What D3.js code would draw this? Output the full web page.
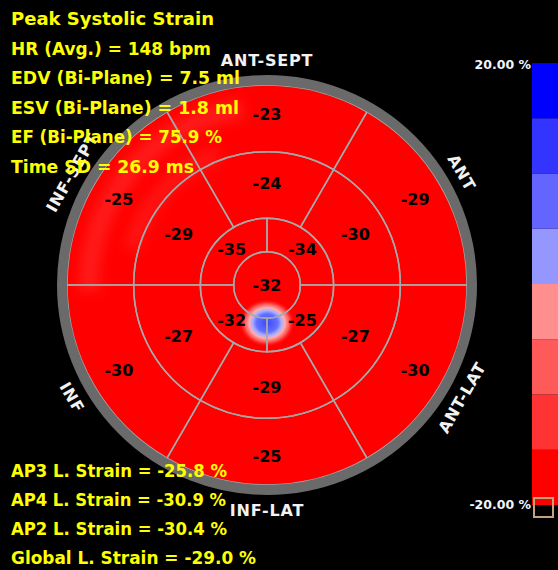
<!DOCTYPE html>
<html>
<head>
<meta charset="utf-8">
<script src="https://cdn.jsdelivr.net/npm/d3@7"></script>
<style>
  html, body { margin: 0; padding: 0; background: #000; }
  svg { display: block; }
</style>
</head>
<body>
<svg id="chart" width="558" height="570"></svg>
<script>
// Segment strain values (%), listed clockwise starting at the top of each ring
const basalValues  = [-23, -29, -30, -25, -30, -25];
const midValues    = [-24, -30, -27, -29, -27, -29];
const apicalValues = [-34, -25, -32, -35];
const apexValues   = [-32];

// Wall names around the plot, clockwise from the top
const wallNames = ["ANT-SEPT", "ANT", "ANT-LAT", "INF-LAT", "INF", "INF-SEPT"];

// Summary text blocks
const headerLines = [
  "Peak Systolic Strain",
  "HR (Avg.) = 148 bpm",
  "EDV (Bi-Plane) = 7.5 ml",
  "ESV (Bi-Plane) = 1.8 ml",
  "EF (Bi-Plane) = 75.9 %",
  "Time SD = 26.9 ms"
];
const strainLines = [
  "AP3 L. Strain = -25.8 %",
  "AP4 L. Strain = -30.9 %",
  "AP2 L. Strain = -30.4 %",
  "Global L. Strain = -29.0 %"
];

// Colour scale: eight bands from -20 % (red) to +20 % (blue)
const scaleColors = ["#ff0000", "#ff3333", "#ff5a5a", "#ff8f8f",
                     "#9696ff", "#6464ff", "#3434ff", "#0000ff"];
const scaleDomain = [-20, 20];
const scaleLabels = ["20.00 %", "-20.00 %"];

// Layout: set widths of the summary lines (px), the font runs a little wide
const headerWidths = [203, 200, 229, 228, 211, 183];
const strainWidths = [216, 215, 216, 245];

const svg = d3.select("#chart");
const W = 558, H = 570;
svg.append("rect").attr("width", W).attr("height", H).attr("fill", "#000");

const cx = 267, cy = 285;
const R = 200;
const color = d3.scaleQuantize().domain(scaleDomain).range(scaleColors);

// Ring radii: apex, apical, mid, basal
const rRing = d3.scaleLinear().domain([0, 6]).range([0, R]);
const rings = [
  {values: basalValues,  r0: rRing(4), r1: rRing(6), labelR: 171, offset: -Math.PI / 6},
  {values: midValues,    r0: rRing(2), r1: rRing(4), labelR: 102, offset: -Math.PI / 6},
  {values: apicalValues, r0: rRing(1), r1: rRing(2), labelR: 50,  offset: 0}
];

const defs = svg.append("defs");
defs.append("filter").attr("id", "soft")
  .attr("x", "-50%").attr("y", "-50%").attr("width", "200%").attr("height", "200%")
  .append("feGaussianBlur").attr("stdDeviation", 6);
const blob = defs.append("radialGradient").attr("id", "blob");
[[0, "#3a4aff", 1], [0.38, "#6470ff", 1], [0.52, "#a9aeff", 1], [0.64, "#ffaeae", 1],
 [0.8, "#ff6a6a", 0.8], [1, "#ff0000", 0]].forEach(([o, c, a]) =>
  blob.append("stop").attr("offset", o).attr("stop-color", c).attr("stop-opacity", a));

const g = svg.append("g").attr("transform", `translate(${cx},${cy})`);
const arc = d3.arc();

// Filled segments
const segs = [];
rings.forEach(ring => {
  const n = ring.values.length;
  const step = 2 * Math.PI / n;
  ring.values.forEach((v, i) => {
    segs.push({
      value: v,
      innerRadius: ring.r0, outerRadius: ring.r1,
      startAngle: ring.offset + i * step, endAngle: ring.offset + (i + 1) * step,
      labelR: ring.labelR, mid: ring.offset + (i + 0.5) * step
    });
  });
});
apexValues.forEach(v => segs.push({
  value: v, innerRadius: 0, outerRadius: rRing(1),
  startAngle: 0, endAngle: 2 * Math.PI, labelR: 0, mid: 0
}));

g.selectAll("path.fill").data(segs).join("path")
  .attr("class", "fill")
  .attr("d", d => arc(d))
  .attr("fill", d => color(d.value));

// Faint lighter bands on the upper-left of the map
const deg = Math.PI / 180;
const sheen = g.append("g").attr("filter", "url(#soft)");
sheen.append("path")
  .attr("d", arc({innerRadius: 168, outerRadius: 188, startAngle: -92 * deg, endAngle: -8 * deg}))
  .attr("fill", "#fff").attr("opacity", 0.1);
sheen.append("path")
  .attr("d", arc({innerRadius: 132, outerRadius: 148, startAngle: -75 * deg, endAngle: -20 * deg}))
  .attr("fill", "#fff").attr("opacity", 0.08);

// Local positive-strain spot just below the apex
g.append("ellipse")
  .attr("cx", 0).attr("cy", 38).attr("rx", 28).attr("ry", 24)
  .attr("fill", "url(#blob)");

// Segment borders
g.selectAll("path.edge").data(segs).join("path")
  .attr("class", "edge")
  .attr("d", d => arc(d))
  .attr("fill", "none")
  .attr("stroke", "#a8a8a8")
  .attr("stroke-width", 1.5);

// Outer grey rim
g.append("circle").attr("r", R + 5)
  .attr("fill", "none").attr("stroke", "#6a6a6a").attr("stroke-width", 10);

// Segment values
g.selectAll("text.val").data(segs).join("text")
  .attr("class", "val")
  .attr("x", d => d.labelR * Math.sin(d.mid))
  .attr("y", d => -d.labelR * Math.cos(d.mid))
  .attr("dy", "0.36em")
  .attr("text-anchor", "middle")
  .attr("font-family", "DejaVu Sans, sans-serif")
  .attr("font-weight", "bold")
  .attr("font-size", 16)
  .attr("fill", "#000")
  .text(d => d.value);

// Wall names along the rim
const nameR = 225;
g.selectAll("text.wall").data(wallNames).join("text")
  .attr("class", "wall")
  .attr("transform", (d, i) => {
    const a = i * 60;                    // clockwise from top, degrees
    const x = nameR * Math.sin(a * deg), y = -nameR * Math.cos(a * deg);
    const rot = (a <= 90 || a >= 270) ? a : a - 180;
    return `translate(${x},${y}) rotate(${rot})`;
  })
  .attr("dy", "0.36em")
  .attr("text-anchor", "middle")
  .attr("font-family", "DejaVu Sans, sans-serif")
  .attr("font-weight", "bold")
  .attr("font-size", 16)
  .attr("letter-spacing", 0.8)
  .attr("fill", "#f2f2f2")
  .text(d => d);

// Colour bar
const barX = 532, barW = W - 532;
const yBar = d3.scaleLinear().domain([20, -20]).range([63, 505]);
const bands = d3.range(scaleColors.length).map(i => {
  const lo = scaleDomain[0] + i * 5;
  return {lo, hi: lo + 5, c: scaleColors[i]};
});
svg.selectAll("rect.band").data(bands).join("rect")
  .attr("class", "band")
  .attr("x", barX).attr("width", barW)
  .attr("y", d => yBar(d.hi))
  .attr("height", d => yBar(d.lo) - yBar(d.hi))
  .attr("fill", d => d.c);
svg.append("rect")
  .attr("x", 534).attr("y", 498).attr("width", 19).attr("height", 19)
  .attr("fill", "none").attr("stroke", "#c3a37a").attr("stroke-width", 2);
svg.selectAll("text.lim").data(scaleLabels).join("text")
  .attr("class", "lim")
  .attr("x", 531)
  .attr("y", (d, i) => yBar(i === 0 ? 20 : -20) + (i === 0 ? 6 : 4))
  .attr("text-anchor", "end")
  .attr("font-family", "DejaVu Sans, sans-serif")
  .attr("font-size", 12.5)
  .attr("font-weight", 600)
  .attr("fill", "#f2f6ff")
  .text(d => d);

// Summary text
const txt = svg.append("g")
  .attr("font-family", "DejaVu Sans, sans-serif")
  .attr("font-weight", "bold")
  .attr("font-size", 18)
  .attr("fill", "#ffff00");
txt.selectAll("text.head").data(headerLines).join("text")
  .attr("class", "head")
  .attr("x", 11).attr("y", (d, i) => 25 + i * 29.6)
  .attr("textLength", (d, i) => headerWidths[i])
  .attr("lengthAdjust", "spacingAndGlyphs")
  .text(d => d);
txt.selectAll("text.strain").data(strainLines).join("text")
  .attr("class", "strain")
  .attr("x", 11).attr("y", (d, i) => 477 + i * 29)
  .attr("textLength", (d, i) => strainWidths[i])
  .attr("lengthAdjust", "spacingAndGlyphs")
  .text(d => d);
</script>
</body>
</html>
